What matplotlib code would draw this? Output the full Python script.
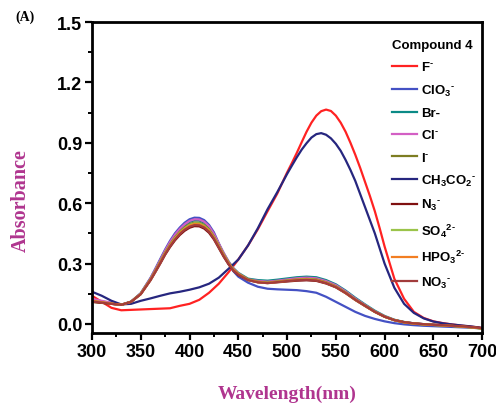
import matplotlib
matplotlib.use("Agg")
import matplotlib.pyplot as plt
from matplotlib.ticker import MultipleLocator, FormatStrFormatter

# wavelength grid for the eight anions with a peak near 405 nm
wl_a = [300, 310, 320, 330, 340, 350, 360, 365, 370, 375, 380, 385, 390, 395, 400, 405, 410, 415,
        420, 425, 430, 435, 440, 445, 450, 460, 470, 480, 490, 500, 510, 520, 530, 540, 550, 560,
        570, 580, 590, 600, 610, 620, 630, 640, 650, 660, 670, 680, 690, 700]
# wavelength grid for F- and CH3CO2- (peak near 535 nm)
wl_b = [300, 310, 320, 330, 340, 350, 360, 370, 380, 390, 400, 410, 420, 430, 440, 450, 460, 470,
        480, 490, 495, 500, 505, 510, 515, 520, 525, 530, 535, 540, 545, 550, 555, 560, 565, 570,
        575, 580, 585, 590, 595, 600, 610, 620, 630, 640, 650, 660, 670, 680, 690, 700]

F_ = [0.14, 0.11, 0.08, 0.068, 0.07, 0.072, 0.074, 0.076, 0.078, 0.09, 0.10, 0.12, 0.155, 0.20, 0.257,
      0.32, 0.39, 0.47, 0.56, 0.648, 0.70, 0.752, 0.80, 0.85, 0.903, 0.955, 1.0, 1.035, 1.057, 1.065,
      1.058, 1.035, 1.0, 0.955, 0.90, 0.84, 0.775, 0.705, 0.635, 0.56, 0.475, 0.385, 0.225, 0.125, 0.06,
      0.03, 0.013, 0.004, -0.003, -0.009, -0.014, -0.02]
CH3CO2_ = [0.16, 0.14, 0.115, 0.097, 0.10, 0.115, 0.127, 0.14, 0.152, 0.16, 0.17, 0.182, 0.20, 0.23, 0.274,
           0.32, 0.39, 0.475, 0.57, 0.655, 0.70, 0.745, 0.787, 0.828, 0.866, 0.898, 0.926, 0.943, 0.948, 0.94,
           0.922, 0.895, 0.86, 0.815, 0.765, 0.71, 0.645, 0.58, 0.515, 0.45, 0.375, 0.30, 0.18, 0.10, 0.055,
           0.028, 0.012, 0.003, -0.003, -0.008, -0.013, -0.02]

ClO3_ = [0.12, 0.11, 0.10, 0.095, 0.111, 0.153, 0.229, 0.275, 0.323, 0.37, 0.413, 0.45, 0.479, 0.503,
         0.52, 0.528, 0.527, 0.516, 0.492, 0.455, 0.40, 0.345, 0.30, 0.262, 0.235, 0.205, 0.185, 0.175,
         0.172, 0.17, 0.168, 0.163, 0.155, 0.135, 0.11, 0.085, 0.06, 0.04, 0.025, 0.013, 0.004, -0.002,
         -0.006, -0.009, -0.011, -0.013, -0.015, -0.017, -0.019, -0.022]
Br_ = [0.12, 0.112, 0.104, 0.096, 0.11, 0.151, 0.225, 0.27, 0.316, 0.362, 0.403, 0.439, 0.468, 0.49,
       0.507, 0.515, 0.514, 0.503, 0.48, 0.444, 0.398, 0.352, 0.31, 0.277, 0.254, 0.225, 0.218, 0.215,
       0.22, 0.226, 0.232, 0.235, 0.232, 0.218, 0.197, 0.166, 0.13, 0.097, 0.066, 0.04, 0.021, 0.01,
       0.003, -0.001, -0.004, -0.007, -0.01, -0.013, -0.017, -0.022]
Cl_ = [0.125, 0.115, 0.105, 0.096, 0.11, 0.152, 0.227, 0.272, 0.318, 0.365, 0.407, 0.443, 0.472, 0.495,
       0.512, 0.52, 0.519, 0.508, 0.485, 0.448, 0.40, 0.353, 0.31, 0.276, 0.252, 0.222, 0.214, 0.21,
       0.215, 0.221, 0.227, 0.23, 0.227, 0.213, 0.193, 0.162, 0.126, 0.094, 0.063, 0.038, 0.02, 0.009,
       0.003, -0.001, -0.004, -0.007, -0.01, -0.013, -0.017, -0.022]
I_ = [0.11, 0.105, 0.10, 0.095, 0.11, 0.15, 0.222, 0.265, 0.31, 0.355, 0.395, 0.43, 0.458, 0.48,
      0.496, 0.504, 0.503, 0.492, 0.47, 0.435, 0.39, 0.345, 0.305, 0.272, 0.25, 0.222, 0.21, 0.206,
      0.211, 0.216, 0.221, 0.224, 0.221, 0.207, 0.187, 0.157, 0.122, 0.091, 0.061, 0.036, 0.019, 0.008,
      0.002, -0.002, -0.005, -0.007, -0.01, -0.013, -0.017, -0.022]
N3_ = [0.11, 0.105, 0.10, 0.095, 0.11, 0.148, 0.217, 0.258, 0.30, 0.344, 0.382, 0.415, 0.442, 0.463,
       0.478, 0.486, 0.485, 0.474, 0.453, 0.42, 0.377, 0.334, 0.296, 0.264, 0.243, 0.218, 0.207, 0.203,
       0.207, 0.211, 0.215, 0.217, 0.214, 0.201, 0.182, 0.153, 0.119, 0.089, 0.06, 0.036, 0.019, 0.009,
       0.003, -0.001, -0.004, -0.006, -0.009, -0.012, -0.016, -0.021]
SO4_ = [0.115, 0.108, 0.101, 0.095, 0.11, 0.15, 0.221, 0.263, 0.308, 0.352, 0.392, 0.427, 0.454, 0.476,
        0.492, 0.50, 0.499, 0.488, 0.466, 0.432, 0.387, 0.343, 0.303, 0.27, 0.249, 0.219, 0.209, 0.205,
        0.21, 0.215, 0.22, 0.222, 0.219, 0.205, 0.185, 0.155, 0.12, 0.09, 0.06, 0.036, 0.019, 0.008,
        0.002, -0.002, -0.005, -0.007, -0.01, -0.014, -0.018, -0.024]
HPO3_ = [0.115, 0.108, 0.101, 0.095, 0.11, 0.149, 0.22, 0.262, 0.306, 0.35, 0.389, 0.423, 0.451, 0.472,
         0.488, 0.496, 0.495, 0.484, 0.463, 0.428, 0.384, 0.34, 0.301, 0.269, 0.248, 0.219, 0.208, 0.204,
         0.209, 0.214, 0.219, 0.221, 0.218, 0.204, 0.184, 0.154, 0.12, 0.09, 0.06, 0.036, 0.019, 0.008,
         0.002, -0.002, -0.005, -0.007, -0.01, -0.013, -0.017, -0.022]
NO3_ = [0.112, 0.106, 0.10, 0.095, 0.11, 0.148, 0.218, 0.26, 0.303, 0.347, 0.386, 0.419, 0.447, 0.468,
        0.483, 0.491, 0.49, 0.479, 0.458, 0.424, 0.381, 0.337, 0.298, 0.266, 0.245, 0.218, 0.207, 0.203,
        0.208, 0.213, 0.217, 0.219, 0.216, 0.203, 0.183, 0.154, 0.12, 0.09, 0.06, 0.036, 0.019, 0.009,
        0.003, -0.001, -0.004, -0.006, -0.009, -0.012, -0.016, -0.021]

M = r"\text{-}"
series = [
    (r"F$^{%s}$" % M, wl_b, F_, "#ff2222"),
    (r"ClO$_{\mathbf{3}}$$^{%s}$" % M, wl_a, ClO3_, "#4451c4"),
    ("Br-", wl_a, Br_, "#0b8a86"),
    (r"Cl$^{%s}$" % M, wl_a, Cl_, "#d35fc4"),
    (r"I$^{%s}$" % M, wl_a, I_, "#7d7d22"),
    (r"CH$_{\mathbf{3}}$CO$_{\mathbf{2}}$$^{%s}$" % M, wl_b, CH3CO2_, "#26267f"),
    (r"N$_{\mathbf{3}}$$^{%s}$" % M, wl_a, N3_, "#7f1010"),
    (r"SO$_{\mathbf{4}}$$^{\mathbf{2}%s}$" % M, wl_a, SO4_, "#9bc44a"),
    (r"HPO$_{\mathbf{3}}$$^{\mathbf{2}%s}$" % M, wl_a, HPO3_, "#f27e22"),
    (r"NO$_{\mathbf{3}}$$^{%s}$" % M, wl_a, NO3_, "#a23c3c"),
]

plt.rcParams['font.family'] = ['Liberation Sans', 'DejaVu Sans']
plt.rcParams['mathtext.fontset'] = 'custom'
plt.rcParams['mathtext.rm'] = 'Liberation Sans:bold'
plt.rcParams['mathtext.bf'] = 'Liberation Sans:bold'
plt.rcParams['mathtext.it'] = 'Liberation Sans:bold'

fig = plt.figure(figsize=(4.96, 4.06), dpi=100)
ax = fig.add_axes([0.1855, 0.1773, 0.7865, 0.766])

for label, wl, vals, color in series:
    ax.plot(wl, vals, color=color, lw=1.6, label=label)

ax.set_xlim(300, 700)
ax.set_ylim(-0.045, 1.5)
ax.xaxis.set_major_locator(MultipleLocator(50))
ax.xaxis.set_minor_locator(MultipleLocator(25))
ax.yaxis.set_major_locator(MultipleLocator(0.3))
ax.yaxis.set_minor_locator(MultipleLocator(0.15))
ax.yaxis.set_major_formatter(FormatStrFormatter('%.1f'))
ax.tick_params(which='major', direction='out', length=5, width=1.6, labelsize=13, pad=2)
ax.tick_params(which='minor', direction='out', length=3, width=1.4)
for lbl in ax.get_xticklabels() + ax.get_yticklabels():
    lbl.set_fontweight('bold')
for sp in ax.spines.values():
    sp.set_linewidth(2)

ax.set_xlabel("Wavelength(nm)", family=['Liberation Serif'], fontweight='bold',
              fontsize=14, color='#b0358f', labelpad=18)
ax.set_ylabel("Absorbance", family=['Liberation Serif'], fontweight='bold',
              fontsize=14.5, color='#b0358f')
ax.yaxis.set_label_coords(-0.157, 0.43)

fig.text(0.03, 0.958, "(A)", family=['Liberation Serif'], fontweight='bold', fontsize=10,
         ha='left', va='center')

leg = ax.legend(loc='upper left', bbox_to_anchor=(0.755, 0.962), frameon=False,
                fontsize=9.5, title="Compound 4", handlelength=1.9, handletextpad=0.3,
                labelspacing=0.7, borderaxespad=0.0)
leg._legend_box.align = "left"
leg.get_title().set_fontweight('bold')
leg.get_title().set_fontsize(9.5)
for t in leg.get_texts():
    t.set_fontweight('bold')

fig.savefig("out.png", dpi=100)
